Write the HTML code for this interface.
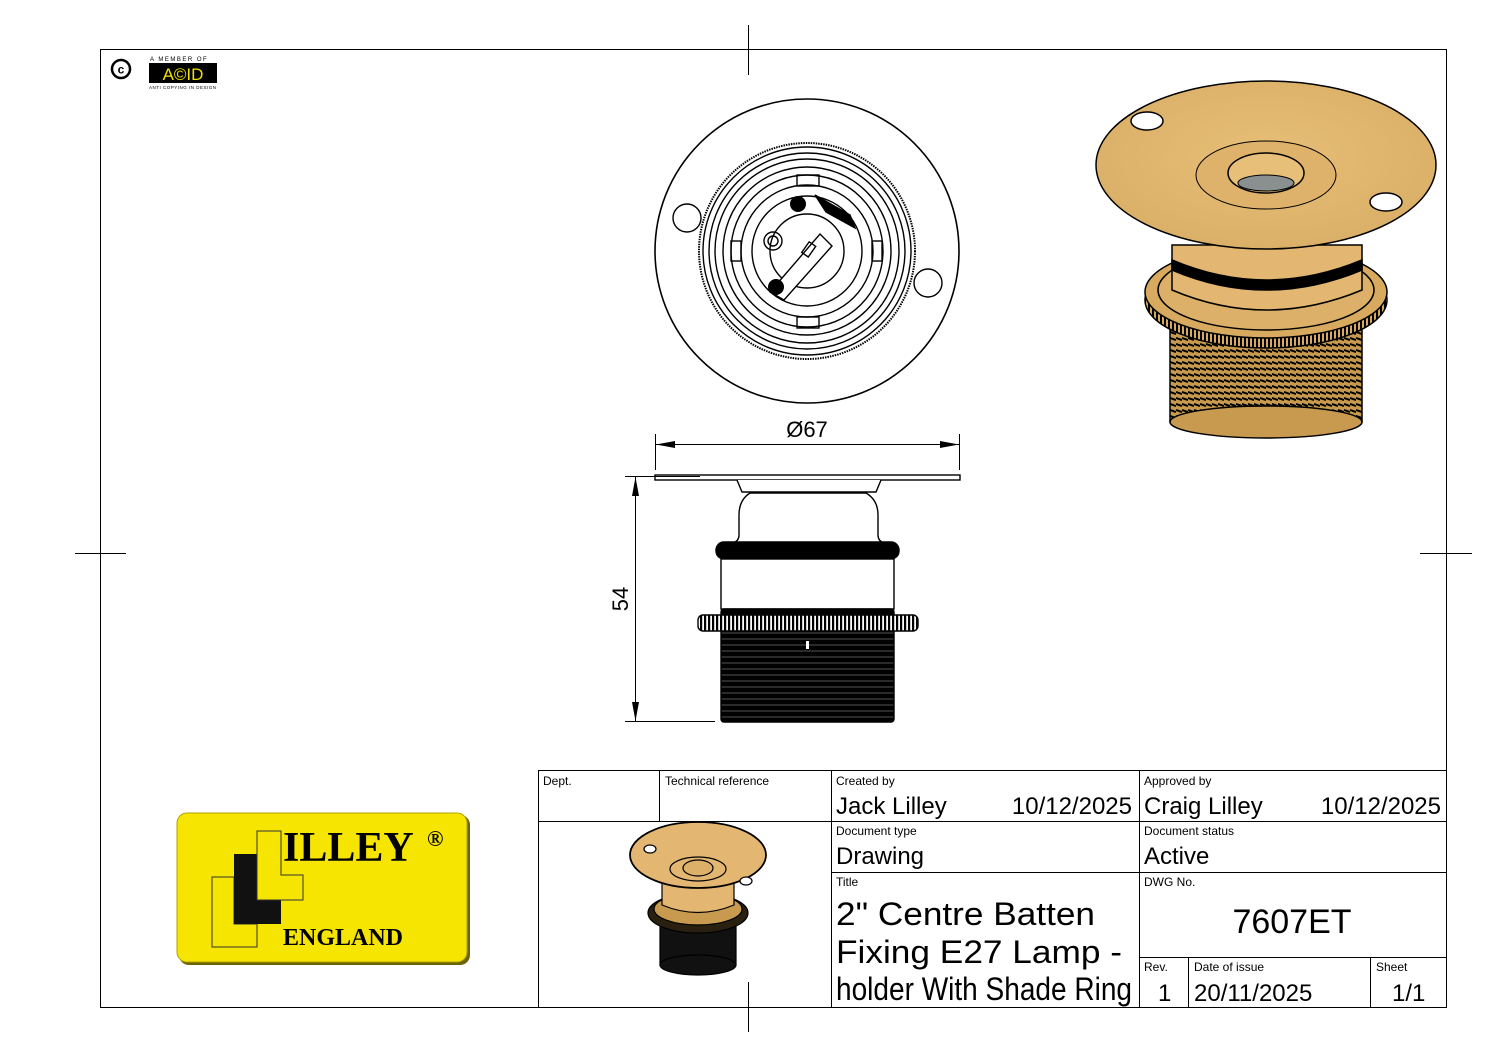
<!DOCTYPE html>
<html><head><meta charset="utf-8"><style>
html,body{margin:0;padding:0;background:#fff}
svg{display:block}
text{font-family:"Liberation Sans",sans-serif;fill:#000}
</style></head><body>
<svg width="1497" height="1058" viewBox="0 0 1497 1058" xmlns="http://www.w3.org/2000/svg">
<defs>
<pattern id="thr" width="6" height="6" patternUnits="userSpaceOnUse"><rect width="6" height="6" fill="#000"/><line x1="0" y1="3" x2="6" y2="3" stroke="#555" stroke-width="1"/></pattern>
<pattern id="knurl" width="4" height="10" patternUnits="userSpaceOnUse"><rect width="4" height="10" fill="#fff"/><rect width="2.2" height="10" fill="#000"/></pattern>
<pattern id="gthr" width="6" height="6" patternUnits="userSpaceOnUse"><rect width="6" height="6" fill="#c79a50"/><line x1="0" y1="2" x2="6" y2="4" stroke="#000" stroke-width="2"/></pattern>
<pattern id="gknurl" width="4" height="10" patternUnits="userSpaceOnUse"><rect width="4" height="10" fill="#d8aa5f"/><rect width="2" height="10" fill="#000"/></pattern>
<radialGradient id="gold" cx="50%" cy="45%" r="60%"><stop offset="0" stop-color="#e8bf78"/><stop offset="1" stop-color="#d9ae66"/></radialGradient>
</defs>
<rect x="100.5" y="49.5" width="1346" height="958" fill="none" stroke="#000" stroke-width="1"/>
<g stroke="#000" stroke-width="1">
<line x1="748.5" y1="25" x2="748.5" y2="75"/>
<line x1="748.5" y1="982" x2="748.5" y2="1032"/>
<line x1="75" y1="553.5" x2="126" y2="553.5"/>
<line x1="1420" y1="553.5" x2="1472" y2="553.5"/>
</g>
<circle cx="121" cy="69" r="9" fill="none" stroke="#000" stroke-width="2.5"/>
<text x="121" y="73.5" font-size="12" font-weight="bold" text-anchor="middle">c</text>
<text x="150" y="61" font-size="6" letter-spacing="1.5">A MEMBER OF</text>
<rect x="149" y="63" width="68" height="20" fill="#000"/>
<text x="183" y="80" font-size="17" text-anchor="middle" style="fill:#f0e000">A©ID</text>
<text x="149" y="89" font-size="4.5" letter-spacing="0.5">ANTI COPYING IN DESIGN</text>

<rect x="179" y="815" width="291" height="150" rx="10" fill="#6b6400"/>
<rect x="177" y="813" width="290" height="149" rx="10" fill="#f6e500" stroke="#b0a200" stroke-width="1"/>
<path d="M212 877H234V924H257V947H212Z" fill="#f6e500" stroke="#333" stroke-width="1"/>
<path d="M234 854H257V900H281V924H234Z" fill="#111"/>
<path d="M257 831H281V875H303V900H257Z" fill="#f6e500" stroke="#333" stroke-width="1"/>
<text x="283" y="861" font-size="42" font-weight="bold" style="font-family:'Liberation Serif',serif">ILLEY</text>
<text x="427" y="846" font-size="22" font-weight="bold" style="font-family:'Liberation Serif',serif">®</text>
<text x="283" y="945" font-size="24" font-weight="bold" style="font-family:'Liberation Serif',serif">ENGLAND</text>

<g fill="none" stroke="#000" stroke-width="1.4">
<circle cx="807" cy="251" r="152" stroke-width="1.6"/>
<circle cx="687" cy="218" r="14"/>
<circle cx="928" cy="283" r="14"/>
<circle cx="807" cy="251" r="108" stroke-dasharray="1.5 1" stroke-width="2"/>
<circle cx="807" cy="251" r="104"/>
<circle cx="807" cy="251" r="98"/>
<circle cx="807" cy="251" r="92"/>
<circle cx="807" cy="251" r="84"/>
<circle cx="807" cy="251" r="76"/>
<circle cx="807" cy="251" r="66"/>
<circle cx="807" cy="251" r="55"/>
<circle cx="807" cy="251" r="37"/>
<rect x="797" y="175" width="22" height="11"/>
<rect x="797" y="317" width="22" height="11"/>
<rect x="731" y="241" width="10" height="20"/>
<rect x="872" y="241" width="10" height="20"/>
<circle cx="773" cy="241" r="9"/>
<circle cx="773" cy="241" r="5"/>
<path d="M770 292L820 234L832 246L784 300Z" fill="#fff"/>
<rect x="805" y="243" width="8" height="13" transform="rotate(35 809 249)"/>
<path d="M815 195L850 215L855 228L826 212Z" fill="#000"/>
</g>
<circle cx="798" cy="204" r="8" fill="#000"/>
<circle cx="776" cy="287" r="8" fill="#000"/>

<g stroke="#000" stroke-width="1.4" fill="#fff">
<rect x="655" y="475" width="305" height="5"/>
<path d="M737 480L742 492H876L881 480"/>
<path d="M750 493H866Q878 500 878 515V535Q878 541 884 543H733Q739 541 739 535V515Q739 500 750 493Z"/>
<rect x="716" y="542" width="183" height="17" rx="8" fill="#000"/>
<rect x="721" y="559" width="173" height="50"/>
<rect x="721" y="609" width="173" height="113" rx="3" fill="url(#thr)"/>
<rect x="698" y="615" width="220" height="16" rx="5" fill="url(#knurl)"/>
</g>
<rect x="806" y="641" width="3" height="8" fill="#fff"/>
<g stroke="#000" stroke-width="1">
<line x1="655.5" y1="434" x2="655.5" y2="470"/>
<line x1="959.5" y1="434" x2="959.5" y2="470"/>
<line x1="656" y1="444.5" x2="959" y2="444.5"/>
<line x1="625" y1="476.5" x2="700" y2="476.5"/>
<line x1="625" y1="721.5" x2="715" y2="721.5"/>
<line x1="635.5" y1="477" x2="635.5" y2="721"/>
</g>
<path d="M656 444.5L675 441L675 448Z M959 444.5L940 441L940 448Z M635.5 477L632 496L639 496Z M635.5 721L632 702L639 702Z" fill="#000"/>
<text x="807" y="437" font-size="22" text-anchor="middle">Ø67</text>
<text x="0" y="0" font-size="22" text-anchor="middle" transform="translate(628 599) rotate(-90)">54</text>

<g stroke="#000" stroke-width="1.5">
<rect x="1170" y="330" width="192" height="92" fill="url(#gthr)"/>
<ellipse cx="1266" cy="422" rx="96" ry="16" fill="#c79a50"/>
<ellipse cx="1266" cy="300" rx="121" ry="48" fill="url(#gknurl)"/>
<ellipse cx="1266" cy="292" rx="121" ry="46" fill="#d8aa5f"/>
<ellipse cx="1266" cy="290" rx="108" ry="40" fill="#dcb068"/>
<path d="M1172 245V290Q1266 330 1362 290V245Z" fill="#e3b671"/>
<path d="M1172 260Q1266 300 1362 260V270Q1266 310 1172 270Z" fill="#000"/>
<ellipse cx="1266" cy="165" rx="170" ry="84" fill="url(#gold)"/>
<ellipse cx="1266" cy="175" rx="70" ry="34" fill="#dfb26b" stroke-width="1"/>
<ellipse cx="1266" cy="173" rx="38" ry="20" fill="#e8bf78"/>
<ellipse cx="1266" cy="183" rx="28" ry="8" fill="#8a9090" stroke-width="1"/>
<ellipse cx="1147" cy="121" rx="16" ry="9" fill="#fff"/>
<ellipse cx="1386" cy="202" rx="16" ry="9" fill="#fff"/>
</g>

<g stroke="#000" stroke-width="1" fill="none">
<rect x="538.5" y="770.5" width="908" height="237"/>
<line x1="538" y1="821.5" x2="1446" y2="821.5"/>
<line x1="831" y1="872.5" x2="1446" y2="872.5"/>
<line x1="1139" y1="957.5" x2="1446" y2="957.5"/>
<line x1="659.5" y1="770" x2="659.5" y2="821"/>
<line x1="831.5" y1="770" x2="831.5" y2="1007"/>
<line x1="1139.5" y1="770" x2="1139.5" y2="1007"/>
<line x1="1188.5" y1="957" x2="1188.5" y2="1007"/>
<line x1="1370.5" y1="957" x2="1370.5" y2="1007"/>
</g>
<g font-size="12">
<text x="543" y="785">Dept.</text>
<text x="665" y="785">Technical reference</text>
<text x="836" y="785">Created by</text>
<text x="1144" y="785">Approved by</text>
<text x="836" y="835">Document type</text>
<text x="1144" y="835">Document status</text>
<text x="836" y="886">Title</text>
<text x="1144" y="886">DWG No.</text>
<text x="1144" y="971">Rev.</text>
<text x="1194" y="971">Date of issue</text>
<text x="1376" y="971">Sheet</text>
</g>
<g font-size="24">
<text x="836" y="814">Jack Lilley</text>
<text x="1132" y="814" text-anchor="end">10/12/2025</text>
<text x="1144" y="814">Craig Lilley</text>
<text x="1441" y="814" text-anchor="end">10/12/2025</text>
<text x="836" y="864">Drawing</text>
<text x="1144" y="864">Active</text>
<text x="1158" y="1001">1</text>
<text x="1194" y="1001">20/11/2025</text>
<text x="1392" y="1001">1/1</text>
</g>
<text x="1292" y="933" font-size="34" text-anchor="middle">7607ET</text>
<g font-size="32">
<text x="836" y="925" textLength="259" lengthAdjust="spacingAndGlyphs">2" Centre Batten</text>
<text x="836" y="963" textLength="286" lengthAdjust="spacingAndGlyphs">Fixing E27 Lamp -</text>
<text x="836" y="1000" textLength="296" lengthAdjust="spacingAndGlyphs">holder With Shade Ring</text>
</g>
<g stroke="#000" stroke-width="1.2">
<rect x="660" y="915" width="76" height="50" fill="#111"/>
<ellipse cx="698" cy="965" rx="38" ry="10" fill="#111"/>
<ellipse cx="698" cy="913" rx="50" ry="20" fill="#2a2010"/>
<ellipse cx="698" cy="909" rx="44" ry="16" fill="#c79a50"/>
<path d="M662 880V905Q698 920 734 905V880Z" fill="#e3b671"/>
<ellipse cx="698" cy="855" rx="68" ry="33" fill="#e3b671" stroke-width="1.8"/>
<ellipse cx="698" cy="869" rx="28" ry="12" fill="none"/>
<ellipse cx="698" cy="868" rx="15" ry="8" fill="#dcb068"/>
<ellipse cx="650" cy="849" rx="6" ry="4" fill="#fff"/>
<ellipse cx="746" cy="881" rx="6" ry="4" fill="#fff"/>
</g>
</svg>
</body></html>
